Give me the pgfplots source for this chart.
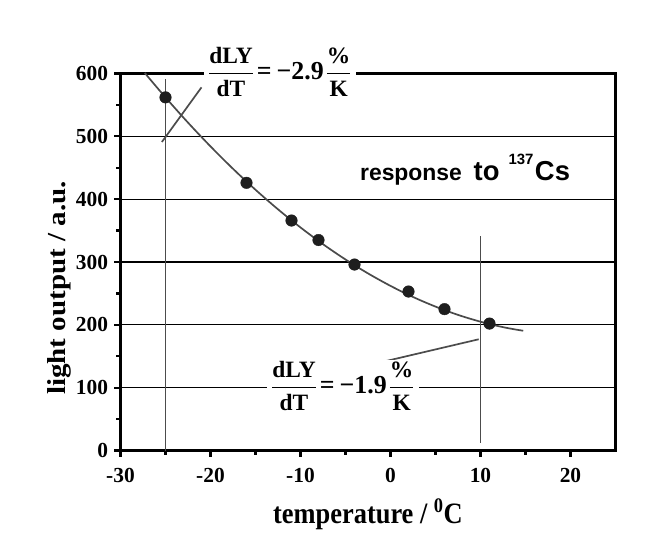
\documentclass[border=0pt]{standalone}
\usepackage{amsmath}
\usepackage{graphicx}
\usepackage{fontspec}
\setmainfont{Liberation Serif}
\newfontfamily\arial{Liberation Sans}
\usepackage{pgfplots}
\pgfplotsset{compat=1.18}
\definecolor{curvegray}{HTML}{4A4A4A}
\definecolor{linegray}{HTML}{4C4C4C}
\definecolor{markblack}{HTML}{1E1E1E}
\newcommand{\fracl}[2]{$\genfrac{}{}{1.4pt}{0}{\text{\fontsize{23.5}{24}\selectfont\bfseries #1}}{\text{\fontsize{23.5}{24}\selectfont\bfseries #2}}$}
\begin{document}
\begin{tikzpicture}
\useasboundingbox (-120.5bp,-99.5bp) rectangle (524.5bp,450.5bp);
\begin{axis}[
  at={(0,0)}, anchor=south west,
  scale only axis, width=495bp, height=377bp,
  xmin=-30, xmax=25, ymin=0, ymax=600,
  xtick={-30,-20,-10,0,10,20},
  xticklabels={-30,-20,-10,0,10,20},
  minor x tick num=1,
  ytick={0,100,200,300,400,500,600},
  yticklabels={0,100,200,300,400,500,600},
  minor y tick num=1,
  tick pos=left,
  tick align=outside,
  major tick length=6bp, minor tick length=4bp,
  every tick/.style={black, line width=2.2bp},
  axis line style={black, line width=3.5bp},
  ymajorgrids,
  grid style={black, line width=1.3bp},
  ticklabel style={font=\fontsize{21.5}{22}\selectfont\bfseries},
  xticklabel style={yshift=-8bp},
  yticklabel style={xshift=-3bp},
  xlabel={\scalebox{1}[1.12]{temperature / \textsuperscript{0}C}},
  ylabel={\scalebox{1.12}[1]{light output / a.u.}},
  xlabel style={font=\fontsize{26.5}{27}\selectfont\bfseries, at={(axis description cs:0.5,-0.1923)}, anchor=base},
  ylabel style={font=\fontsize{26}{27}\selectfont\bfseries, at={(axis description cs:-0.1121,0.431)}, anchor=base},
  clip=false,
]
% vertical reference lines and leader lines
\addplot[linegray, line width=1.9bp] coordinates {(-25,0) (-25,592)};
\addplot[linegray, line width=1.9bp] coordinates {(10,12) (10,341)};
\addplot[linegray, line width=1.7bp] coordinates {(-25.4,491) (-21,578)};
\addplot[linegray, line width=1.7bp] coordinates {(-1.8,138) (9.8,177)};
% fitted curve
\addplot[curvegray, line width=1.7bp, smooth] coordinates {
(-27.3,600.9) (-27,595.7) (-26,578.7) (-25,562.0) (-24,545.7) (-23,529.7)
(-22,514.1) (-21,498.9) (-20,484.0) (-19,469.5) (-18,455.3) (-17,441.5)
(-16,428.1) (-15,415.0) (-14,402.3) (-13,389.9) (-12,377.9) (-11,366.3)
(-10,355.0) (-9,344.1) (-8,333.5) (-7,323.3) (-6,313.5) (-5,304.0)
(-4,294.9) (-3,286.1) (-2,277.7) (-1,269.7) (0,262.0) (1,254.7)
(2,247.7) (3,241.1) (4,234.9) (5,229.0) (6,223.5) (7,218.3)
(8,213.5) (9,209.1) (10,205.0) (11,201.3) (12,197.9) (13,194.9)
(14,192.3) (14.75,190.6)};
% measured points
\addplot[only marks, mark=*, mark size=5.8bp, markblack, mark options={fill=markblack, draw=markblack}] coordinates {
(-25,562) (-16,426) (-11,366) (-8,335) (-4,296) (2,253) (6,225) (11,202)};
\coordinate (L1) at (axis cs:-12.3,590);
\coordinate (L2) at (axis cs:-5.3,90);
\coordinate (R1) at (axis cs:-3.4,430);
\end{axis}
\node[fill=white, inner xsep=4bp, inner ysep=1bp, anchor=base] at (L1) {\fontsize{26}{27}\selectfont\bfseries\fracl{dLY}{dT}\hspace{3bp}=\hspace{5bp}−2.9\hspace{2bp}\fracl{\%}{K}};
\node[fill=white, inner xsep=4bp, inner ysep=1bp, anchor=base] at (L2) {\fontsize{26}{27}\selectfont\bfseries\fracl{dLY}{dT}\hspace{3bp}=\hspace{5bp}−1.9\hspace{2bp}\fracl{\%}{K}};
\node[inner sep=0pt, anchor=base west] at (R1) {\arial\bfseries{\fontsize{23}{24}\selectfont response}\hspace{11.7bp}{\fontsize{27.5}{28}\selectfont to}\hspace{9bp}\raisebox{16bp}{\fontsize{15}{15}\selectfont 137}\hspace{1.5bp}{\fontsize{27.5}{28}\selectfont Cs}};
\end{tikzpicture}
\end{document}
